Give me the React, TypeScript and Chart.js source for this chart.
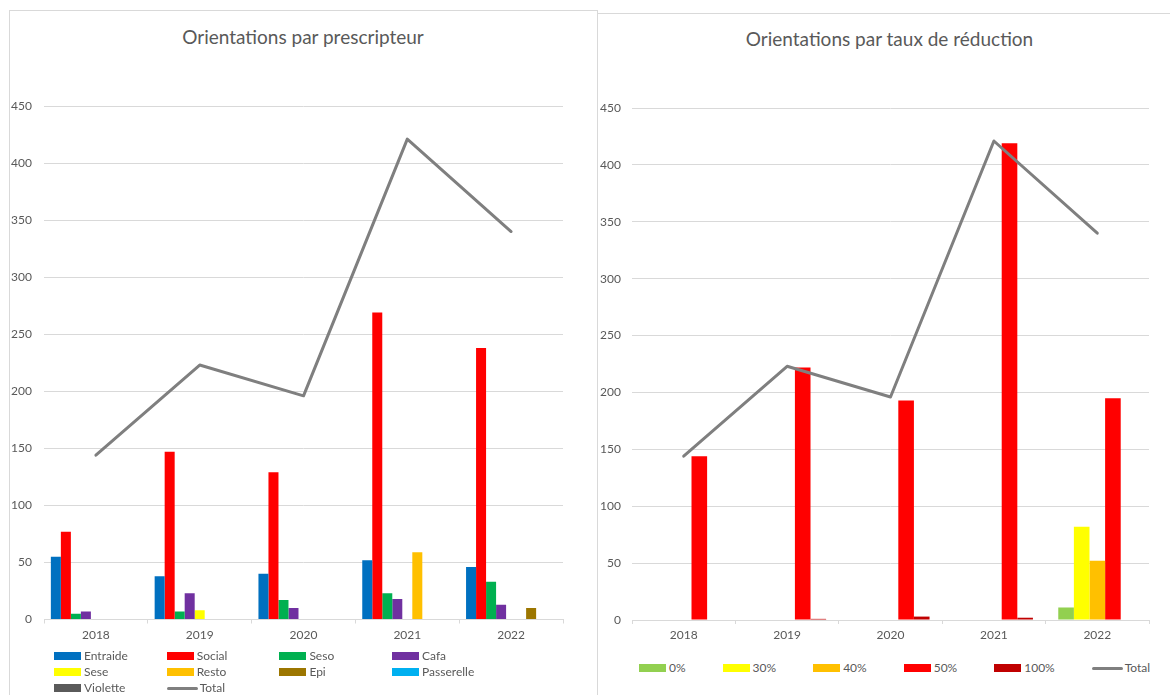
import React, { useEffect, useRef } from "react";
import { Chart, registerables } from "chart.js";

Chart.register(...registerables);

// ---------- Data ----------
const years = ["2018", "2019", "2020", "2021", "2022"];

// Chart 1: Orientations par prescripteur
const entraide = [55, 38, 40, 52, 46];
const social = [77, 147, 129, 269, 238];
const seso = [5, 7, 17, 23, 33];
const cafa = [7, 23, 10, 18, 13];
const sese = [0, 8, 0, 0, 0];
const resto = [0, 0, 0, 59, 0];
const epi = [0, 0, 0, 0, 10];
const passerelle = [0, 0, 0, 0, 0];
const violette = [0, 0, 0, 0, 0];
const totalPrescripteur = [144, 223, 196, 421, 340];

// Chart 2: Orientations par taux de réduction
const taux0 = [0, 0, 0, 0, 11];
const taux30 = [0, 0, 0, 0, 82];
const taux40 = [0, 0, 0, 0, 52];
const taux50 = [144, 222, 193, 419, 195];
const taux100 = [0, 1, 3, 2, 0];
const totalTaux = [144, 223, 196, 421, 340];

const yMin = 0;
const yMax = 450;
const yStep = 50;

const title1 = "Orientations par prescripteur";
const title2 = "Orientations par taux de réduction";

const seriesPrescripteur = [
  { label: "Entraide", data: entraide, color: "#0070C0" },
  { label: "Social", data: social, color: "#FF0000" },
  { label: "Seso", data: seso, color: "#00B050" },
  { label: "Cafa", data: cafa, color: "#7030A0" },
  { label: "Sese", data: sese, color: "#FFFF00" },
  { label: "Resto", data: resto, color: "#FFC000" },
  { label: "Epi", data: epi, color: "#9C7600" },
  { label: "Passerelle", data: passerelle, color: "#00B0F0" },
  { label: "Violette", data: violette, color: "#5A5A5A" },
];

const seriesTaux = [
  { label: "0%", data: taux0, color: "#92D050" },
  { label: "30%", data: taux30, color: "#FFFF00" },
  { label: "40%", data: taux40, color: "#FFC000" },
  { label: "50%", data: taux50, color: "#FF0000" },
  { label: "100%", data: taux100, color: "#C00000" },
];

const LINE_COLOR = "#7F7F7F";
const TEXT = "#595959";
const GRID = "#D9D9D9";
const FONT = "Lato, 'Open Sans', sans-serif";

type Series = { label: string; data: number[]; color: string };

function makeConfig(opts: {
  series: Series[];
  total: number[];
  catPct: number;
  yWidth: number;
  xHeight: number;
  padRight: number;
  padTop: number;
  yTickPad: number;
}): any {
  return {
    type: "bar",
    data: {
      labels: years,
      datasets: [
        {
          type: "line",
          label: "Total",
          data: opts.total,
          borderColor: LINE_COLOR,
          backgroundColor: LINE_COLOR,
          borderWidth: 3,
          pointRadius: 0,
          tension: 0,
          borderCapStyle: "round",
          borderJoinStyle: "round",
          order: 0,
        },
        ...opts.series.map((s) => ({
          type: "bar",
          label: s.label,
          data: s.data,
          backgroundColor: s.color,
          borderWidth: 0,
          categoryPercentage: opts.catPct,
          barPercentage: 1,
          order: 1,
        })),
      ],
    },
    options: {
      animation: false,
      responsive: false,
      devicePixelRatio: 1,
      layout: { padding: { left: 0, right: opts.padRight, top: opts.padTop, bottom: 0 } },
      plugins: {
        legend: { display: false },
        tooltip: { enabled: false },
        title: { display: false },
      },
      scales: {
        x: {
          offset: true,
          grid: {
            offset: true,
            drawOnChartArea: false,
            drawTicks: true,
            tickLength: 4,
            color: GRID,
          },
          border: { display: true, color: GRID, width: 1 },
          ticks: {
            color: TEXT,
            font: { family: FONT, size: 12 },
            padding: 4,
            maxRotation: 0,
          },
          afterFit: (s: any) => {
            s.height = opts.xHeight;
          },
        },
        y: {
          min: yMin,
          max: yMax,
          ticks: {
            stepSize: yStep,
            color: TEXT,
            font: { family: FONT, size: 12 },
            padding: opts.yTickPad,
          },
          grid: { color: GRID, lineWidth: 1, drawTicks: false },
          border: { display: false },
          afterFit: (s: any) => {
            s.width = opts.yWidth;
          },
        },
      },
    },
  };
}

function ChartCanvas(props: { config: any; width: number; height: number; style: React.CSSProperties }) {
  const ref = useRef<HTMLCanvasElement | null>(null);
  useEffect(() => {
    if (!ref.current) return;
    const chart = new Chart(ref.current, props.config);
    return () => chart.destroy();
  }, []);
  return (
    <canvas
      ref={ref}
      width={props.width}
      height={props.height}
      style={{ position: "absolute", ...props.style, width: props.width, height: props.height }}
    />
  );
}

function LegendBox({ color }: { color: string }) {
  return <span style={{ display: "inline-block", width: 27, height: 8, background: color, marginRight: 3 }} />;
}
function LegendLine() {
  return (
    <span style={{ display: "inline-block", width: 31, height: 3, background: LINE_COLOR, borderRadius: 2, marginRight: 2 }} />
  );
}

const legendText: React.CSSProperties = {
  fontFamily: FONT,
  fontSize: 12,
  color: TEXT,
  whiteSpace: "nowrap",
  lineHeight: "16px",
};

const titleStyle: React.CSSProperties = {
  position: "absolute",
  textAlign: "center",
  fontFamily: FONT,
  fontSize: 19,
  lineHeight: "23px",
  color: TEXT,
  whiteSpace: "nowrap",
};

export default function App() {
  const cfg1 = makeConfig({
    series: seriesPrescripteur,
    total: totalPrescripteur,
    catPct: 0.868,
    yWidth: 34,
    xHeight: 31.5,
    padRight: 33,
    padTop: 95,
    yTickPad: 12,
  });
  const cfg2 = makeConfig({
    series: seriesTaux,
    total: totalTaux,
    catPct: 0.755,
    yWidth: 34,
    xHeight: 34,
    padRight: 21,
    padTop: 94,
    yTickPad: 11,
  });

  const leftLegendItems = [
    ...seriesPrescripteur.map((s) => ({ label: s.label, color: s.color, line: false })),
    { label: "Total", color: LINE_COLOR, line: true },
  ];
  const rightLegendItems = [
    ...seriesTaux.map((s) => ({ label: s.label, color: s.color, line: false })),
    { label: "Total", color: LINE_COLOR, line: true },
  ];

  return (
    <div style={{ position: "absolute", left: 0, top: 0, width: 1170, height: 695, overflow: "hidden", background: "#fff" }}>
      {/* panel borders */}
      <div style={{ position: "absolute", left: 9, top: 10, width: 589, height: 700, border: `1px solid ${GRID}`, boxSizing: "border-box" }} />
      <div style={{ position: "absolute", left: 597, top: 13, width: 600, height: 700, border: `1px solid ${GRID}`, boxSizing: "border-box", background: "#fff" }} />

      <div style={{ ...titleStyle, left: 9, width: 588, top: 25 }}>{title1}</div>
      <div style={{ ...titleStyle, left: 597, width: 585, top: 27 }}>{title2}</div>

      <ChartCanvas config={cfg1} width={586} height={640} style={{ left: 10, top: 11 }} />
      <ChartCanvas config={cfg2} width={572} height={640} style={{ left: 598, top: 14 }} />

      {/* left legend */}
      <div
        style={{
          position: "absolute",
          left: 54,
          top: 648,
          display: "grid",
          gridTemplateColumns: "repeat(4, 112.7px)",
          gridAutoRows: "16px",
        }}
      >
        {leftLegendItems.map((it) => (
          <div key={it.label} style={{ display: "flex", alignItems: "center", ...legendText }}>
            {it.line ? <LegendLine /> : <LegendBox color={it.color} />}
            <span>{it.label}</span>
          </div>
        ))}
      </div>

      {/* right legend */}
      <div style={{ position: "absolute", left: 639, top: 660, display: "flex", alignItems: "center" }}>
        {rightLegendItems.map((it, i) => (
          <div
            key={it.label}
            style={{ display: "flex", alignItems: "center", marginRight: i < rightLegendItems.length - 1 ? 37 : 0, ...legendText }}
          >
            {it.line ? <LegendLine /> : <LegendBox color={it.color} />}
            <span>{it.label}</span>
          </div>
        ))}
      </div>
    </div>
  );
}
